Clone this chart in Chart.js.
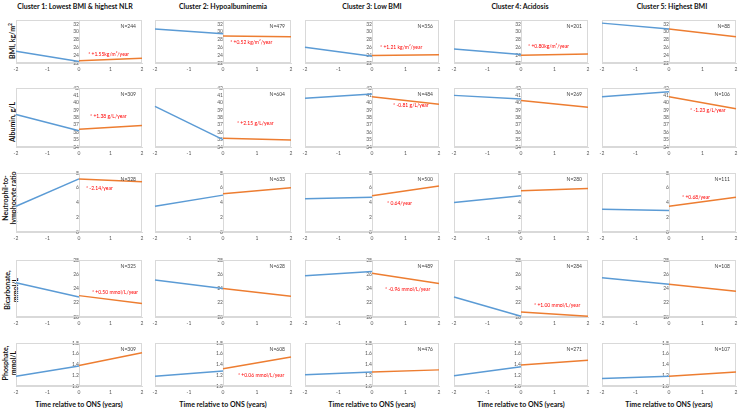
<!DOCTYPE html>
<html><head><meta charset="utf-8">
<script src="https://cdn.jsdelivr.net/npm/chart.js@4"></script>
<style>
html,body{margin:0;padding:0;background:#fff;width:740px;height:411px;overflow:hidden;}
#root{position:relative;width:740px;height:411px;}
canvas{position:absolute;}
.t{position:absolute;transform:translate(-50%,-50%);white-space:nowrap;font-family:Lato,'Open Sans',sans-serif;font-weight:bold;color:#111;font-size:7px;line-height:8px;}
.r{position:absolute;transform:translate(-50%,-50%) rotate(-90deg);white-space:nowrap;text-align:center;font-family:Lato,'Open Sans',sans-serif;font-weight:bold;color:#111;font-size:7px;line-height:8px;}
.r sup{font-size:5px;line-height:0;}
</style></head><body><div id="root"></div>
<script>
// ---------- DATA ----------
const clusters = ["Cluster 1: Lowest BMI & highest NLR", "Cluster 2: Hypoalbuminemia", "Cluster 3: Low BMI", "Cluster 4: Acidosis", "Cluster 5: Highest BMI"];
const rowLabels = ["BMI, kg/m<sup>2</sup>", "Albumin, g/L", "Neutrophil-to-<br>lymphocyte ratio", "Bicarbonate,<br>mmol/L", "Phosphate,<br>mmol/L"];
const xAxisTitle = "Time relative to ONS (years)";
const timeRange = [-2, 2];
const preTimes = [-2, 0];
const postTimes = [0, 2];

// values per cluster: [value at first time, value at second time]
const bmiPre  = [[25.0, 22.4], [30.7, 29.5], [26.0, 23.7], [25.6, 24.2], [32.2, 30.7]];
const bmiPost = [[22.6, 23.2], [28.9, 28.7], [23.9, 24.1], [24.0, 24.3], [30.7, 28.7]];
const bmiN    = [244, 479, 356, 201, 88];
const bmiNotes = ["* +1.55kg/m²/year", "* +0.52 kg/m²/year", "* +1.21 kg/m²/year", "* +0.80kg/m²/year", null];
const bmiAxis = [22, 33, 2];

const albPre  = [[38.4, 36.2], [39.5, 35.0], [40.6, 41.2], [41.0, 40.5], [40.8, 41.5]];
const albPost = [[36.4, 36.9], [35.2, 34.95], [40.8, 39.8], [40.3, 39.4], [40.8, 39.2]];
const albN    = [309, 604, 484, 269, 106];
const albNotes = ["* +1.38 g/L/year", "* +2.15 g/L/year", "* -0.81 g/L/year", null, "* -1.23 g/L/year"];
const albAxis = [34, 42, 1];

const nlrPre  = [[3.5, 7.2], [3.5, 5.0], [4.5, 4.7], [4.0, 4.9], [3.1, 2.9]];
const nlrPost = [[7.2, 6.8], [5.2, 6.0], [4.9, 6.25], [5.6, 5.9], [3.5, 4.7]];
const nlrN    = [328, 633, 500, 280, 111];
const nlrNotes = ["* -2.14/year", null, "* 0.64/year", null, "* +0.68/year"];
const nlrAxis = [0, 8, 2];

const bicPre  = [[24.8, 22.8], [25.2, 24.0], [25.8, 26.4], [22.8, 20.1], [25.5, 24.6]];
const bicPost = [[23.0, 21.9], [24.0, 22.9], [26.15, 24.7], [20.7, 20.1], [24.6, 23.6]];
const bicN    = [325, 628, 489, 284, 108];
const bicNotes = ["* +0.50 mmol/L/year", null, "* -0.96 mmol/L/year", "* +1.00 mmol/L/year", null];
const bicAxis = [20, 28, 2];

const phoPre  = [[1.18, 1.37], [1.18, 1.28], [1.21, 1.26], [1.19, 1.36], [1.14, 1.18]];
const phoPost = [[1.38, 1.62], [1.32, 1.54], [1.26, 1.30], [1.39, 1.48], [1.18, 1.26]];
const phoN    = [309, 608, 476, 271, 107];
const phoNotes = [null, "* +0.06 mmol/L/year", null, null, null];
const phoAxis = [1, 1.8, 0.2];

// ---------- LAYOUT ----------
const colLeft = [16, 155, 305, 454, 602], colRight = [142, 291, 439, 588, 736];
const rowTop = [15, 83, 168, 255, 338], rowBottom = [66, 150, 235, 320, 389];
const colCenter = [75, 223, 372, 520, 672];
const rowLabelPos = [[12, 41], [12, 122], [9, 198], [11, 290], [9, 363]];
// note anchors in data units (x, y)
const notePos = [
  [[0.29, 24.2], [0.21, 27.2], [0.24, 25.9], [0.21, 26.35], null],
  [[0.35, 38.18], [0.41, 37.22], [0.63, 39.61], null, [0.63, 39.0]],
  [[0.22, 5.85], null, [0.45, 3.94], null, [0.39, 4.66]],
  [[0.41, 23.45], null, [0.39, 23.82], [0.39, 21.6], null],
  [null, [0.44, 1.19], null, null, null]
];

const rows = [
  [bmiPre, bmiPost, bmiN, bmiNotes, bmiAxis],
  [albPre, albPost, albN, albNotes, albAxis],
  [nlrPre, nlrPost, nlrN, nlrNotes, nlrAxis],
  [bicPre, bicPost, bicN, bicNotes, bicAxis],
  [phoPre, phoPost, phoN, phoNotes, phoAxis]
];

const root = document.getElementById('root');
const FONT = "Lato, 'Open Sans', sans-serif";

clusters.forEach((t, c) => {
  const d = document.createElement('div'); d.className = 't'; d.textContent = t;
  d.style.left = colCenter[c] + 'px'; d.style.top = '6px'; root.appendChild(d);
  const x = document.createElement('div'); x.className = 't'; x.textContent = xAxisTitle;
  x.style.left = ((colLeft[c] + colRight[c]) / 2) + 'px'; x.style.top = '404px'; root.appendChild(x);
});
rowLabels.forEach((t, r) => {
  const d = document.createElement('div'); d.className = 'r'; d.innerHTML = t;
  d.style.left = rowLabelPos[r][0] + 'px'; d.style.top = rowLabelPos[r][1] + 'px'; root.appendChild(d);
});

const panelPlugin = {
  id: 'panel',
  beforeDatasetsDraw(chart) {
    const a = chart.chartArea, ctx = chart.ctx;
    ctx.save(); ctx.strokeStyle = '#d9d9d9'; ctx.lineWidth = 1;
    ctx.strokeRect(Math.round(a.left) + 0.5, Math.round(a.top) + 0.5, Math.round(a.right - a.left) - 1, Math.round(a.bottom - a.top) - 1);
    ctx.restore();
  },
  afterDatasetsDraw(chart, args, opts) {
    const a = chart.chartArea, ctx = chart.ctx;
    ctx.save();
    ctx.font = '5px ' + FONT; ctx.fillStyle = '#404040'; ctx.textAlign = 'right'; ctx.textBaseline = 'middle';
    ctx.fillText('N=' + opts.n, a.right - 6, a.top + 6);
    if (opts.note && opts.pos) {
      ctx.fillStyle = '#ff0000'; ctx.textAlign = 'left';
      ctx.fillText(opts.note, chart.scales.x.getPixelForValue(opts.pos[0]), chart.scales.y.getPixelForValue(opts.pos[1]));
    }
    ctx.restore();
  }
};

const PADL = 10, PADR = 10, PADT = 4, XH = 14;
rows.forEach((R, r) => {
  const [pre, post, ns, notes, axis] = R;
  for (let c = 0; c < 5; c++) {
    const cv = document.createElement('canvas');
    const w = colRight[c] - colLeft[c] + PADL + PADR;
    const h = rowBottom[r] - rowTop[r] + PADT + XH;
    cv.width = w; cv.height = h;
    cv.style.left = (colLeft[c] - PADL) + 'px'; cv.style.top = (rowTop[r] - PADT) + 'px';
    cv.style.width = w + 'px'; cv.style.height = h + 'px';
    root.appendChild(cv);
    new Chart(cv, {
      type: 'scatter',
      data: { datasets: [
        { data: preTimes.map((t, i) => ({ x: t, y: pre[c][i] })), showLine: true, borderColor: '#5b9bd5', borderWidth: 1.5, pointRadius: 0, clip: false },
        { data: postTimes.map((t, i) => ({ x: t, y: post[c][i] })), showLine: true, borderColor: '#ed7d31', borderWidth: 1.5, pointRadius: 0, clip: false }
      ]},
      options: {
        responsive: false, animation: false, events: [],
        layout: { padding: { left: PADL, right: PADR, top: PADT, bottom: XH - 9 } },
        plugins: { legend: { display: false }, tooltip: { enabled: false },
          panel: { n: ns[c], note: notes[c], pos: notePos[r][c] } },
        scales: {
          x: { type: 'linear', min: timeRange[0], max: timeRange[1],
               grid: { display: false, drawTicks: false }, border: { display: true, color: '#d9d9d9' },
               ticks: { stepSize: 1, padding: 3, maxRotation: 0, autoSkip: false, font: { size: 5, family: FONT }, color: '#595959' } },
          y: { type: 'linear', position: { x: 0 }, min: axis[0], max: axis[1],
               grid: { display: false, drawTicks: false }, border: { display: true, color: '#d9d9d9' },
               ticks: { stepSize: axis[2], includeBounds: false, padding: 6, autoSkip: false, font: { size: 5, family: FONT }, color: '#595959' } }
        }
      },
      plugins: [panelPlugin]
    });
  }
});
</script></body></html>
